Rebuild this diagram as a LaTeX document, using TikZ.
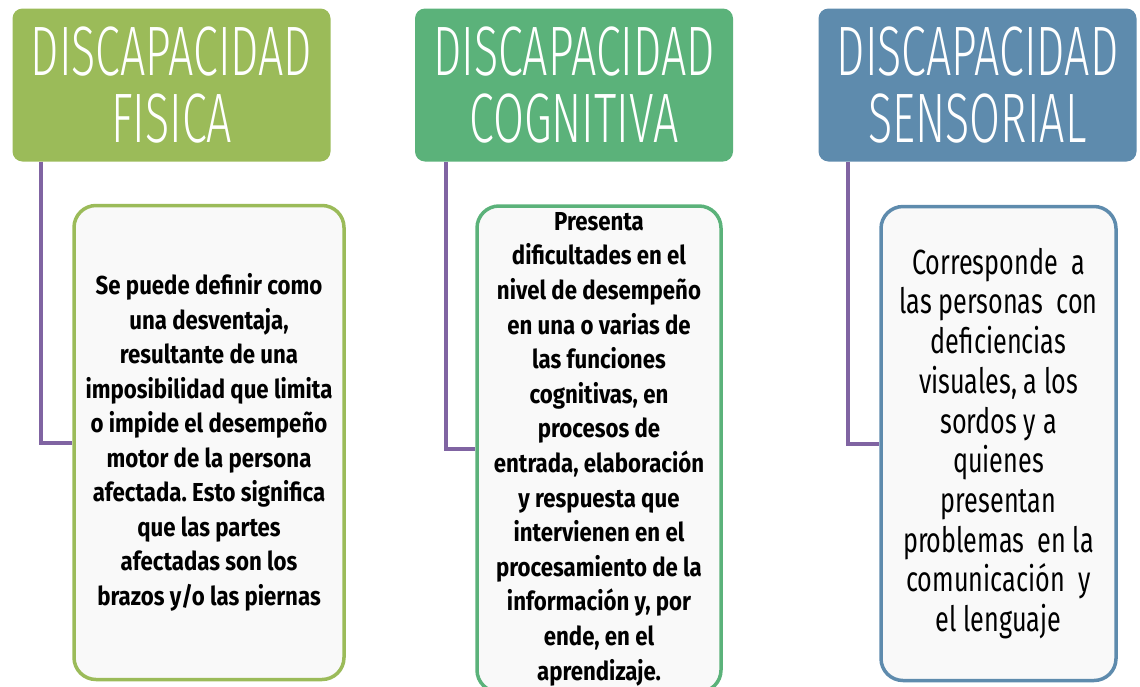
\documentclass[tikz,border=0pt]{standalone}
\usepackage{fontspec}
\setmainfont{Fira Sans}
\newfontfamily\headfont[FakeStretch=0.64]{Fira Sans Light}
\newfontfamily\bodyfont[FakeStretch=0.855]{Fira Sans}
\newfontfamily\sensfont[FakeStretch=0.72]{Fira Sans}
\definecolor{hgreen}{HTML}{9BBB59}
\definecolor{cgreen}{HTML}{5BB27A}
\definecolor{sblue}{HTML}{5E8BAD}
\definecolor{conncol}{HTML}{8064A2}
\frenchspacing
\begin{document}
\begin{tikzpicture}[x=1pt,y=-1pt,
  head/.style={rounded corners=10pt, minimum width=318pt, minimum height=153pt, text=white, inner sep=0pt, align=center, font=\headfont\fontsize{70}{67}\selectfont},
  box/.style={draw, line width=3.5pt, rounded corners=22pt, fill=black!2.5, align=center, inner sep=0pt, text=black},
  conn/.style={draw=conncol, line width=4pt}]
\useasboundingbox (0,0) rectangle (1140,686);
\node[head, fill=hgreen] (h1) at (171.5,85) {DISCAPACIDAD\\FISICA};
\node[head, fill=cgreen] (h2) at (574,85) {DISCAPACIDAD\\COGNITIVA};
\node[head, fill=sblue] (h3) at (977.5,85) {DISCAPACIDAD\\SENSORIAL};
\node[box, draw=hgreen, minimum width=270pt, minimum height=474pt, font=\bodyfont\bfseries\frenchspacing\fontsize{26}{34.5}\selectfont] (b1) at (209,442.5)
 {Se puede definir como\\una desventaja,\\resultante de una\\imposibilidad que limita\\o impide el desempeño\\motor de la persona\\afectada. Esto significa\\que las partes\\afectadas son los\\brazos y/o las piernas};
\node[box, draw=cgreen, minimum width=244pt, minimum height=486pt, font=\bodyfont\bfseries\frenchspacing\fontsize{26}{34.6}\selectfont] (b2) at (599,449)
 {Presenta\\dificultades en el\\nivel de desempeño\\en una o varias de\\las funciones\\cognitivas, en\\procesos de\\entrada, elaboración\\y respuesta que\\intervienen en el\\procesamiento de la\\información y, por\\ende, en el\\aprendizaje.};
\node[box, draw=sblue, minimum width=235pt, minimum height=474pt, font=\sensfont\frenchspacing\fontsize{35}{39.7}\selectfont] (b3) at (998.5,443.5)
 {Corresponde\ \ a\\las personas\ \ con\\deficiencias\\visuales, a los\\sordos y a\\quienes\\presentan\\problemas\ \ en la\\comunicación\ \ y\\el lenguaje};
\draw[conn] ([xshift=29pt]h1.south west) |- (b1.west);
\draw[conn] ([xshift=31pt]h2.south west) |- (b2.west);
\draw[conn] ([xshift=30pt]h3.south west) |- (b3.west);
\end{tikzpicture}
\end{document}
